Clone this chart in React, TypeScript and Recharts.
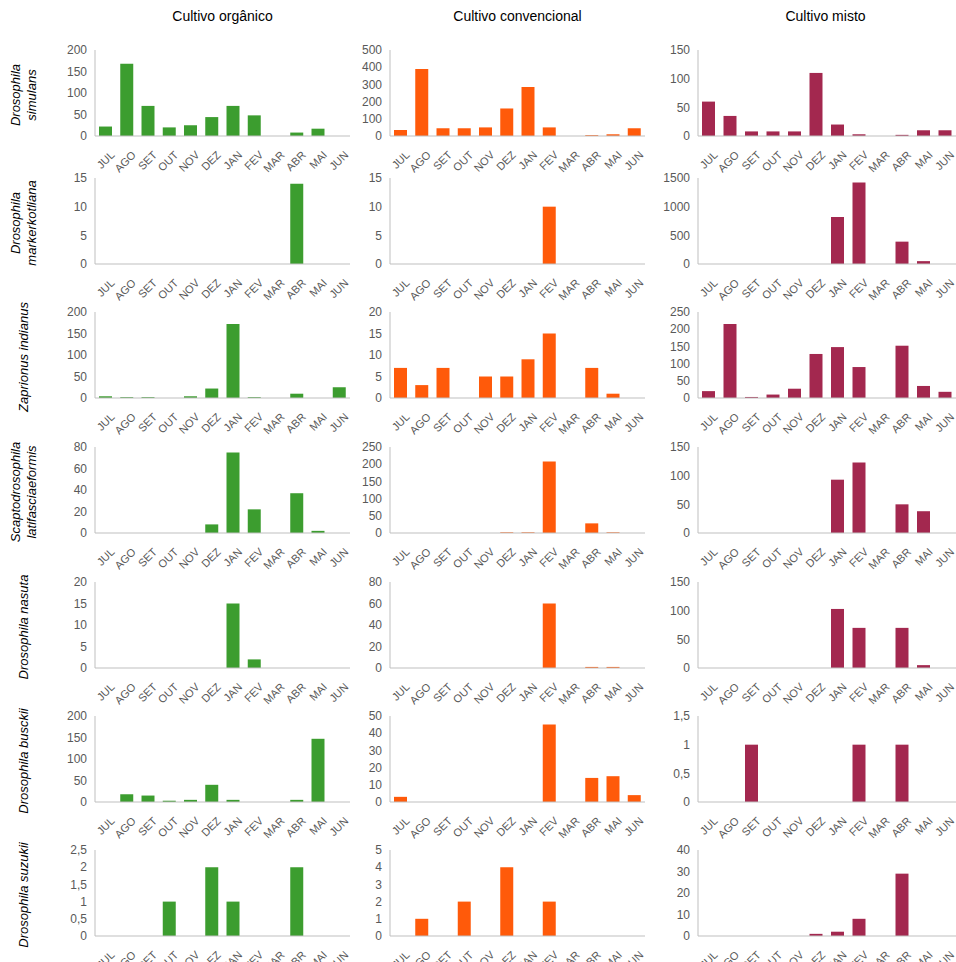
import React from "react";
import { BarChart, Bar, XAxis, YAxis } from "recharts";

const months = ["JUL", "AGO", "SET", "OUT", "NOV", "DEZ", "JAN", "FEV", "MAR", "ABR", "MAI", "JUN"];
const columns = ["Cultivo orgânico", "Cultivo convencional", "Cultivo misto"];
const colors = ["#3c9d2f", "#ff5a0a", "#a3284f"];
const species = [
  ["Drosophila", "simulans"],
  ["Drosophila", "markerkotliana"],
  ["Zaprionus indianus"],
  ["Scaptodrosophila", "latifasciaeformis"],
  ["Drosophila nasuta"],
  ["Drosophila busckii"],
  ["Drosophila suzukii"],
];

// values per species: [orgânico, convencional, misto]
const simulans = [
  [22, 168, 70, 20, 25, 44, 70, 48, 0, 8, 17, 0],
  [35, 390, 45, 45, 50, 160, 285, 50, 0, 5, 10, 45],
  [60, 35, 8, 8, 8, 110, 20, 3, 0, 2, 10, 10],
];
const markerkotliana = [
  [0, 0, 0, 0, 0, 0, 0, 0, 0, 14, 0, 0],
  [0, 0, 0, 0, 0, 0, 0, 10, 0, 0, 0, 0],
  [0, 0, 0, 0, 0, 0, 820, 1420, 0, 390, 50, 0],
];
const indianus = [
  [4, 2, 2, 0, 4, 22, 172, 2, 0, 10, 0, 25],
  [7, 3, 7, 0, 5, 5, 9, 15, 0, 7, 1, 0],
  [20, 215, 3, 10, 27, 128, 148, 90, 0, 152, 35, 18],
];
const latifasciaeformis = [
  [0, 0, 0, 0, 0, 8, 75, 22, 0, 37, 2, 0],
  [0, 0, 0, 0, 0, 2, 2, 208, 0, 28, 2, 0],
  [0, 0, 0, 0, 0, 0, 93, 123, 0, 50, 38, 0],
];
const nasuta = [
  [0, 0, 0, 0, 0, 0, 15, 2, 0, 0, 0, 0],
  [0, 0, 0, 0, 0, 0, 0, 60, 0, 1, 1, 0],
  [0, 0, 0, 0, 0, 0, 103, 70, 0, 70, 5, 0],
];
const busckii = [
  [0, 18, 15, 3, 5, 40, 5, 0, 0, 5, 147, 0],
  [3, 0, 0, 0, 0, 0, 0, 45, 0, 14, 15, 4],
  [0, 0, 1, 0, 0, 0, 0, 1, 0, 1, 0, 0],
];
const suzukii = [
  [0, 0, 0, 1, 0, 2, 1, 0, 0, 2, 0, 0],
  [0, 1, 0, 2, 0, 4, 0, 2, 0, 0, 0, 0],
  [0, 0, 0, 0, 0, 1, 2, 8, 0, 29, 0, 0],
];
const allValues = [simulans, markerkotliana, indianus, latifasciaeformis, nasuta, busckii, suzukii];

const ticks = [
  [[0, 50, 100, 150, 200], [0, 100, 200, 300, 400, 500], [0, 50, 100, 150]],
  [[0, 5, 10, 15], [0, 5, 10, 15], [0, 500, 1000, 1500]],
  [[0, 50, 100, 150, 200], [0, 5, 10, 15, 20], [0, 50, 100, 150, 200, 250]],
  [[0, 20, 40, 60, 80], [0, 50, 100, 150, 200, 250], [0, 50, 100, 150]],
  [[0, 5, 10, 15, 20], [0, 20, 40, 60, 80], [0, 50, 100, 150]],
  [[0, 50, 100, 150, 200], [0, 10, 20, 30, 40, 50], [0, 0.5, 1, 1.5]],
  [[0, 0.5, 1, 1.5, 2, 2.5], [0, 1, 2, 3, 4, 5], [0, 10, 20, 30, 40]],
];

const plotTops = [50, 178, 312, 447, 582, 716, 850];
const colLefts = [55, 350, 658];
const axisStroke = "#bfbfbf";
const fmt = (v: number) => String(v).replace(".", ",");

function RotTick({ x, y, payload }: any) {
  const ty = y + 6;
  return (
    <text x={x + 4} y={ty} transform={`rotate(-45 ${x + 4} ${ty})`} textAnchor="end" dy={8}
      fontSize={11} fill="#595959" fontFamily="Liberation Sans, Arial">
      {payload.value}
    </text>
  );
}

export default function App() {
  return (
    <div style={{ position: "absolute", left: 0, top: 0, width: 956, height: 962, background: "#fff", fontFamily: "Liberation Sans, Arial" }}>
      {columns.map((c, i) => (
        <div key={c} style={{ position: "absolute", top: 8, left: colLefts[i] + 40, width: 255, textAlign: "center", fontSize: 14, color: "#000" }}>{c}</div>
      ))}
      <svg width={60} height={962} style={{ position: "absolute", left: 0, top: 0 }}>
        {species.map((lines, r) => {
          const cy = plotTops[r] + 45;
          return lines.map((t, k) => {
            const x = lines.length === 2 ? 20 + k * 16 : 28;
            return (
              <text key={t} x={x} y={cy} transform={`rotate(-90 ${x} ${cy})`} textAnchor="middle"
                fontSize={13} fontStyle="italic" fill="#000" fontFamily="Liberation Sans, Arial">{t}</text>
            );
          });
        })}
      </svg>
      {allValues.map((vals, r) =>
        vals.map((series, c) => {
          const data = months.map((m, k) => ({ m, v: series[k] }));
          const t = ticks[r][c];
          return (
            <div key={`${r}-${c}`} style={{ position: "absolute", left: colLefts[c], top: plotTops[r] - 10 }}>
              <BarChart width={c === 2 ? 298 : 300} height={141} data={data}
                margin={{ top: 10, right: c === 2 ? 0 : 5, bottom: 0, left: 0 }} barSize={13}>
                <XAxis dataKey="m" interval={0} tick={<RotTick />} tickLine={false} stroke={axisStroke} height={45} />
                <YAxis width={40} domain={[0, t[t.length - 1]]} ticks={t} interval={0} tickFormatter={fmt} tickLine={false}
                  stroke={axisStroke} tick={{ fontSize: 12, fill: "#595959" }} />
                <Bar dataKey="v" fill={colors[c]} isAnimationActive={false} />
              </BarChart>
            </div>
          );
        })
      )}
    </div>
  );
}
